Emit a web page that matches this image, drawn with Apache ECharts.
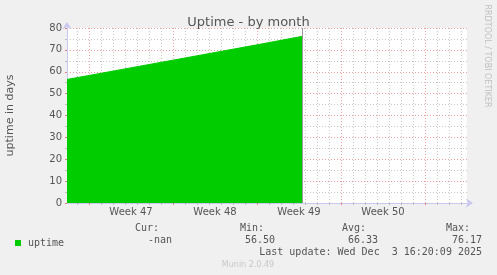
<!DOCTYPE html>
<html>
<head>
<meta charset="utf-8">
<script src="https://cdn.jsdelivr.net/npm/echarts@6/dist/echarts.min.js"></script>
<style>
html,body{margin:0;padding:0;background:#f0f0f0;}
#chart{width:497px;height:275px;}
</style>
</head>
<body>
<div id="chart"></div>
<script>
// x values: days since Monday of week 47 (00:00)
const days = [-1.833, 0, 7, 14, 17.75];
const uptime = [56.5, 58.3, 65.3, 72.3, 76.17];
const weekLabels = ['Week 47', 'Week 48', 'Week 49', 'Week 50'];
const weekCenters = [3.5, 10.5, 17.5, 24.5];
const weekStarts = [0, 7, 14, 21, 28];
const dayLines = [-1, 0, 1, 2, 3, 4, 5, 6, 7, 8, 9, 10, 11, 12, 13, 14, 15, 16, 17, 18, 19, 20, 21, 22, 23, 24, 25, 26, 27, 28, 29, 30, 31];
const yTicks = [0, 10, 20, 30, 40, 50, 60, 70, 80];
const stats = {cur: '-nan', min: '56.50', avg: '66.33', max: '76.17'};
const xMin = -1.8333, xMax = 31.5;

const seriesData = days.map((d, i) => [d, uptime[i]]);
const FONT = 'DejaVu Sans';
const MONO = 'DejaVu Sans Mono';
const gridGray = '#c8c8c8';
const gridRed = '#eca0a0';
const axisBlue = '#c8c8f0';

const chart = echarts.init(document.getElementById('chart'), null, {renderer: 'canvas'});
chart.setOption({
  backgroundColor: '#f0f0f0',
  animation: false,
  title: {
    text: 'Uptime - by month',
    left: 'center', top: 11,
    textStyle: {fontFamily: FONT, fontSize: 13, fontWeight: 'normal', color: '#555'}
  },
  grid: {left: 67, top: 28, width: 400, height: 175, show: true, backgroundColor: '#ffffff', borderWidth: 0,
    containLabel: false, outerBoundsMode: 'none'},
  legend: {
    data: ['uptime'], left: 10, top: 233, icon: 'rect', itemWidth: 6, itemHeight: 6, itemGap: 0,
    textStyle: {fontFamily: MONO, fontSize: 10, color: '#555', padding: [0, 0, 0, 2]}
  },
  xAxis: [
    {
      type: 'value', min: xMin, max: xMax, position: 'bottom',
      axisLine: {show: true, onZero: false, lineStyle: {color: axisBlue, width: 1}, symbol: ['none', 'arrow'], symbolSize: [7, 7], symbolOffset: [0, 6]},
      axisTick: {show: true, length: 2, lineStyle: {color: '#bbb'}, customValues: dayLines},
      axisLabel: {
        show: true, customValues: weekCenters, margin: 4,
        fontFamily: FONT, fontSize: 10, color: '#555',
        formatter: v => { const i = weekCenters.findIndex(c => Math.abs(c - v) < 1e-6); return i >= 0 ? weekLabels[i] : ''; }
      },
      splitLine: {show: true, lineStyle: {color: gridGray, type: [1, 2], width: 1}}
    },
    {
      type: 'value', min: xMin, max: xMax, position: 'bottom',
      axisLine: {show: false, onZero: false},
      axisTick: {show: true, length: 2, lineStyle: {color: '#e08080'}, customValues: weekStarts},
      axisLabel: {show: false},
      splitLine: {show: true, lineStyle: {color: gridRed, type: [1, 2], width: 1}}
    }
  ],
  yAxis: {
    type: 'value', min: 0, max: 80, interval: 10, position: 'left',
    name: 'uptime in days', nameLocation: 'middle', nameGap: 51, nameRotate: 90,
    nameTextStyle: {fontFamily: FONT, fontSize: 11, color: '#555'},
    axisLine: {show: true, onZero: false, lineStyle: {color: axisBlue, width: 1}, symbol: ['none', 'arrow'], symbolSize: [7, 7], symbolOffset: [0, 6]},
    axisTick: {show: true, length: 2, lineStyle: {color: '#e08080'}, customValues: yTicks},
    axisLabel: {fontFamily: FONT, fontSize: 10, color: '#555', margin: 5},
    splitLine: {show: true, lineStyle: {color: gridRed, type: [1, 2], width: 1}},
    minorTick: {show: true, splitNumber: 2, length: 2, lineStyle: {color: '#bbb'}},
    minorSplitLine: {show: true, lineStyle: {color: gridGray, type: [1, 2], width: 1}}
  },
  series: [{
    name: 'uptime', type: 'line', xAxisIndex: 0, data: seriesData,
    symbol: 'none', color: '#00cc00',
    lineStyle: {color: '#00cc00', width: 1},
    areaStyle: {color: '#00cc00', opacity: 1},
    markLine: {
      silent: true, symbol: 'none', label: {show: false},
      lineStyle: {color: '#999', type: 'solid', width: 1},
      data: [{xAxis: days[days.length - 1]}]
    }
  }],
  graphic: [
    {type: 'text', x: 487, y: 56, rotation: -Math.PI / 2,
      style: {text: 'RRDTOOL / TOBI OETIKER', fontFamily: FONT, fontSize: 8, fill: '#c0c0c0', align: 'center', verticalAlign: 'middle'}},
    {type: 'text', x: 159, y: 228, style: {text: 'Cur:', fontFamily: MONO, fontSize: 10, fill: '#555', align: 'right', verticalAlign: 'middle'}},
    {type: 'text', x: 264, y: 228, style: {text: 'Min:', fontFamily: MONO, fontSize: 10, fill: '#555', align: 'right', verticalAlign: 'middle'}},
    {type: 'text', x: 366, y: 228, style: {text: 'Avg:', fontFamily: MONO, fontSize: 10, fill: '#555', align: 'right', verticalAlign: 'middle'}},
    {type: 'text', x: 470, y: 228, style: {text: 'Max:', fontFamily: MONO, fontSize: 10, fill: '#555', align: 'right', verticalAlign: 'middle'}},
    {type: 'text', x: 172, y: 240, style: {text: stats.cur, fontFamily: MONO, fontSize: 10, fill: '#555', align: 'right', verticalAlign: 'middle'}},
    {type: 'text', x: 275, y: 240, style: {text: stats.min, fontFamily: MONO, fontSize: 10, fill: '#555', align: 'right', verticalAlign: 'middle'}},
    {type: 'text', x: 378, y: 240, style: {text: stats.avg, fontFamily: MONO, fontSize: 10, fill: '#555', align: 'right', verticalAlign: 'middle'}},
    {type: 'text', x: 482, y: 240, style: {text: stats.max, fontFamily: MONO, fontSize: 10, fill: '#555', align: 'right', verticalAlign: 'middle'}},
    {type: 'text', x: 482, y: 252, style: {text: 'Last update: Wed Dec  3 16:20:09 2025', fontFamily: MONO, fontSize: 10, fill: '#555', align: 'right', verticalAlign: 'middle'}},
    {type: 'text', x: 248, y: 265, style: {text: 'Munin 2.0.49', fontFamily: FONT, fontSize: 8, fill: '#c8c8c8', align: 'center', verticalAlign: 'middle'}}
  ]
});
</script>
</body>
</html>
